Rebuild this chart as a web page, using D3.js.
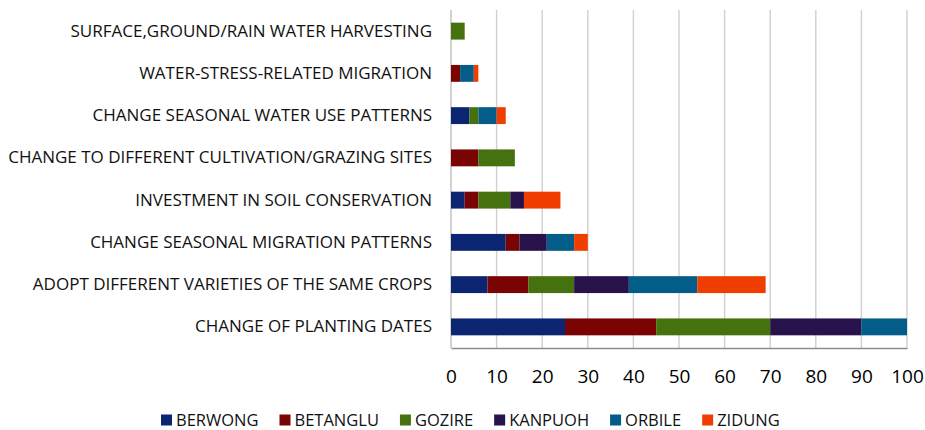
<!DOCTYPE html>
<html>
<head>
<meta charset="utf-8">
<script src="https://cdn.jsdelivr.net/npm/d3@7"></script>
<style>
  body { margin: 0; background: #fff; }
  svg { display: block; font-family: "Open Sans", sans-serif; }
</style>
</head>
<body>
<svg width="925" height="430"></svg>
<script>
const categories = [
    "SURFACE,GROUND/RAIN WATER HARVESTING",
    "WATER-STRESS-RELATED MIGRATION",
    "CHANGE SEASONAL WATER USE PATTERNS",
    "CHANGE TO DIFFERENT CULTIVATION/GRAZING SITES",
    "INVESTMENT IN SOIL CONSERVATION",
    "CHANGE SEASONAL MIGRATION PATTERNS",
    "ADOPT DIFFERENT VARIETIES OF THE SAME CROPS",
    "CHANGE OF PLANTING DATES"
];

const seriesNames = ["BERWONG", "BETANGLU", "GOZIRE", "KANPUOH", "ORBILE", "ZIDUNG"];

const berwong  = [0, 0, 4, 0, 3, 12, 8, 25];
const betanglu = [0, 2, 0, 6, 3, 3, 9, 20];
const gozire   = [3, 0, 2, 8, 7, 0, 10, 25];
const kanpuoh  = [0, 0, 0, 0, 3, 6, 12, 20];
const orbile   = [0, 3, 4, 0, 0, 6, 15, 10];
const zidung   = [0, 1, 2, 0, 8, 3, 15, 0];

const xTicks = [0, 10, 20, 30, 40, 50, 60, 70, 80, 90, 100];

const colors = ["#0b2572", "#7a0303", "#45710f", "#27124b", "#045c88", "#f03e00"];

// table for d3.stack
const seriesValues = [berwong, betanglu, gozire, kanpuoh, orbile, zidung];
const rows = categories.map((c, i) => {
    const row = { category: c };
    seriesNames.forEach((s, j) => row[s] = seriesValues[j][i]);
    return row;
});

const svg = d3.select("svg");

const margin = { left: 451, right: 18, top: 10, bottom: 82 };
const width = +svg.attr("width");
const height = +svg.attr("height");

const x = d3.scaleLinear()
    .domain([0, 100])
    .range([margin.left, width - margin.right]);

const y = d3.scaleBand()
    .domain(categories)
    .range([margin.top, height - margin.bottom])
    .paddingInner(0.6)
    .paddingOuter(0.3);

const color = d3.scaleOrdinal().domain(seriesNames).range(colors);

// gridlines
svg.append("g")
    .selectAll("line")
    .data(xTicks)
    .join("line")
    .attr("x1", d => x(d))
    .attr("x2", d => x(d))
    .attr("y1", margin.top)
    .attr("y2", height - margin.bottom)
    .attr("stroke", d => d === 0 ? "#bfbfbf" : "#d0d0d0")
    .attr("stroke-width", 1.4);

// bars
const stacked = d3.stack().keys(seriesNames)(rows);

svg.append("g")
    .selectAll("g")
    .data(stacked)
    .join("g")
    .attr("fill", d => color(d.key))
    .selectAll("rect")
    .data(d => d)
    .join("rect")
    .attr("x", d => x(d[0]))
    .attr("y", d => y(d.data.category))
    .attr("width", d => x(d[1]) - x(d[0]))
    .attr("height", y.bandwidth());

// x axis
const xAxis = svg.append("g")
    .attr("transform", `translate(0,${height - margin.bottom})`)
    .call(d3.axisBottom(x).tickValues(xTicks).tickSize(0).tickPadding(22));
xAxis.select(".domain").attr("stroke", "#8c8c8c").attr("stroke-width", 1.4);
xAxis.selectAll("text")
    .attr("font-size", 19)
    .attr("font-family", "Open Sans, sans-serif")
    .attr("fill", "#000");

// y axis labels
const yAxis = svg.append("g")
    .attr("transform", `translate(${margin.left},0)`)
    .call(d3.axisLeft(y).tickSize(0).tickPadding(19));
yAxis.select(".domain").remove();
yAxis.selectAll("text")
    .attr("font-size", 17)
    .attr("font-family", "Open Sans, sans-serif")
    .attr("fill", "#111");

// legend
const legend = svg.append("g").attr("transform", "translate(161,419)");
let lx = 0;
seriesNames.forEach(name => {
    const item = legend.append("g").attr("transform", `translate(${lx},0)`);
    item.append("rect")
        .attr("x", 0)
        .attr("y", -4.5)
        .attr("width", 11)
        .attr("height", 11)
        .attr("fill", color(name));
    const t = item.append("text")
        .attr("x", 15)
        .attr("dy", "0.4em")
        .attr("font-size", 16.5)
        .attr("fill", "#111")
        .text(name);
    lx += 15 + t.node().getComputedTextLength() + 21;
});
</script>
</body>
</html>
